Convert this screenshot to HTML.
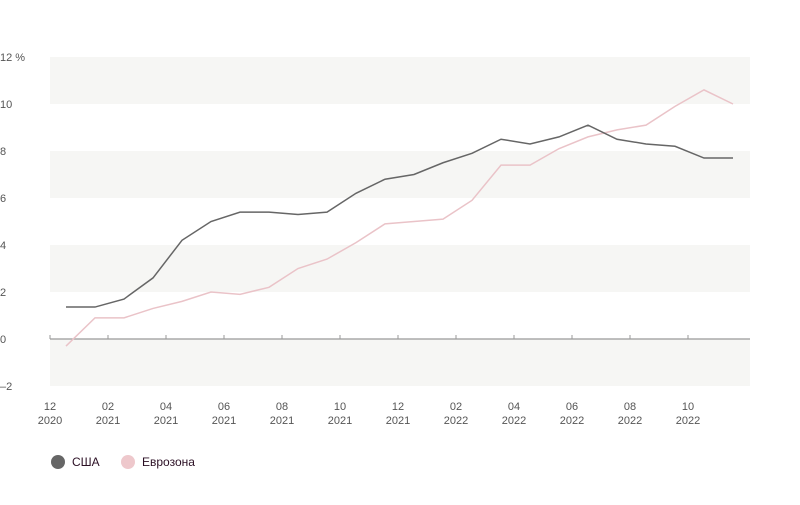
<!DOCTYPE html>
<html><head><meta charset="utf-8"><style>
body{margin:0;background:#fff;font-family:"Liberation Sans",sans-serif}
svg text{font-family:"Liberation Sans","Noto Sans CJK SC",sans-serif}
</style></head><body>
<svg id="c" width="800" height="500" xmlns="http://www.w3.org/2000/svg"></svg>
<script>
const months=["12 2020","01","02 2021","03","04 2021","05","06 2021","07","08 2021","09","10 2021","11","12 2021","01","02 2022","03","04 2022","05","06 2022","07","08 2022","09","10 2022","11"];
const usa=[1.36,1.36,1.7,2.6,4.2,5.0,5.4,5.4,5.3,5.4,6.2,6.8,7.0,7.5,7.9,8.5,8.3,8.6,9.1,8.5,8.3,8.2,7.7,7.7];
const euro=[-0.3,0.9,0.9,1.3,1.6,2.0,1.9,2.2,3.0,3.4,4.1,4.9,5.0,5.1,5.9,7.4,7.4,8.1,8.6,8.9,9.1,9.9,10.6,10.0];
const yTicks=[-2,0,2,4,6,8,10,12];
const xTickLabels=[["12","2020"],["02","2021"],["04","2021"],["06","2021"],["08","2021"],["10","2021"],["12","2021"],["02","2022"],["04","2022"],["06","2022"],["08","2022"],["10","2022"]];
const NS="http://www.w3.org/2000/svg",svg=document.getElementById('c');
const x0=50,x1=750,mw=29;
const y=v=>339-v*23.5;
const xm=i=>x0+16+i*mw;
function mk(t,a,p){const e=document.createElementNS(NS,t);for(const k in a)e.setAttribute(k,a[k]);(p||svg).appendChild(e);return e;}
// bands
for(let v=-2;v<12;v+=4){
 const r=mk('rect',{x:x0,y:y(v+2),width:x1-x0,height:y(v)-y(v+2),fill:'#f6f6f4'});
 
 
}
yTicks.forEach(v=>{
 const t=mk('text',{x:0,y:y(v)+4,'font-size':11,fill:'#555'});
 t.textContent=(v<0?'–'+(-v):v)+(v===12?' %':'');
 
 
});
const ax=mk('line',{x1:x0,x2:x1,y1:y(0),y2:y(0),stroke:'#999','stroke-width':1.2});


xTickLabels.forEach((l,i)=>{
 const xx=x0+i*2*mw;
 const tk=mk('line',{x1:xx,x2:xx,y1:y(0),y2:y(0)-4,stroke:'#999'});
 
 
 const t=mk('text',{x:xx,y:410,'font-size':11,fill:'#555','text-anchor':'middle'});
 
 
 const a=mk('tspan',{x:xx},t);a.textContent=l[0];
 const b=mk('tspan',{x:xx,dy:14},t);b.textContent=l[1];
});
function line(d,c,n){
 const p=mk('polyline',{points:d.map((v,i)=>xm(i)+','+y(v)).join(' '),fill:'none',stroke:c,'stroke-width':1.5});
 
 
}
line(euro,'#eac3c8','line-eurozone');
line(usa,'#666','line-usa');
[[58,'#666','США','legend-usa'],[128,'#eec8cc','Еврозона','legend-eurozone']].forEach(l=>{
 const g=mk('g',{});
 
 
 mk('circle',{cx:l[0],cy:462,r:7,fill:l[1]},g);
 const t=mk('text',{x:l[0]+14,y:466,'font-size':12,fill:'#2b0f24'},g);t.textContent=l[2];
});
</script>
</body></html>
